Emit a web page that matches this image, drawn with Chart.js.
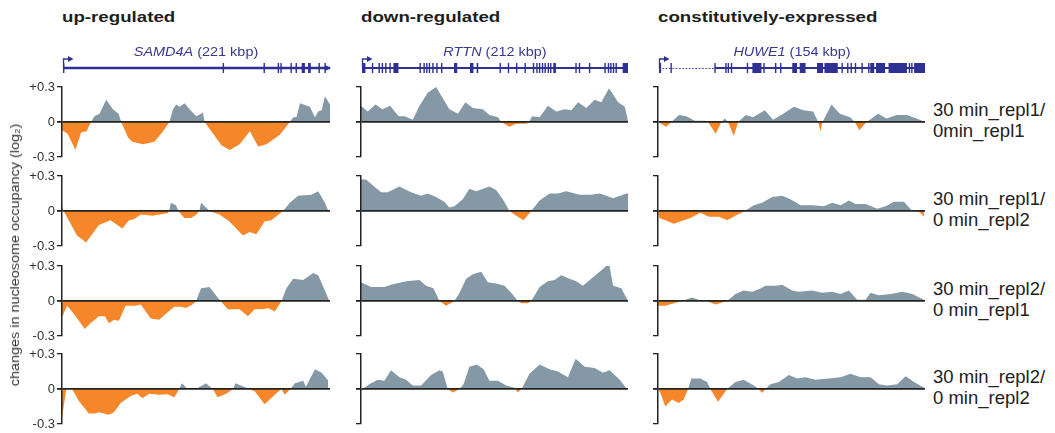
<!DOCTYPE html>
<html><head><meta charset="utf-8">
<script src="https://cdn.jsdelivr.net/npm/chart.js@4.4.0/dist/chart.umd.min.js"></script>
<style>
body{margin:0;background:#fff;width:1055px;height:433px;overflow:hidden;position:relative;font-family:"Liberation Sans",Arial,sans-serif;}
canvas{position:absolute;}
.t{position:absolute;white-space:nowrap;color:#222;}
</style></head><body>
<script>
// ---------- text ----------
const columnTitles = ['up-regulated', 'down-regulated', 'constitutively-expressed'];
const geneNames = ['SAMD4A', 'RTTN', 'HUWE1'];
const geneSizes = ['(221 kbp)', '(212 kbp)', '(154 kbp)'];
const rowLabels = [
  ['30 min_repl1/', '0min_repl1'],
  ['30 min_repl1/', '0 min_repl2'],
  ['30 min_repl2/', '0 min_repl1'],
  ['30 min_repl2/', '0 min_repl2']
];
const yTitle = 'changes in nucleosome occupancy (log\u2082)';
const yTickValues = [-0.3, 0, 0.3];
const yTickLabels = ['-0.3', '0', '+0.3'];

// ---------- gene models: exons as [start, end] in % of gene length ----------
const samd4aExons = [[0,0.5],[59.8,60.3],[75.1,75.6],[80.4,80.9],[81.4,81.9],[85.2,85.7],[87.1,87.6],[89.4,90.6],[91.8,92.8],[95.7,96.2],[97.9,98.4]];
const rttnExons = [[0,1.3],[3.7,4.2],[6.2,6.7],[7.4,7.9],[8.7,9.2],[10.3,10.8],[11.8,13.7],[21.6,22.1],[23.1,23.6],[24.1,24.6],[25.1,25.6],[26.4,26.9],[27.9,28.4],[29.7,30.2],[34.6,35.8],[40.6,41.9],[43.1,43.7],[51.7,52.2],[54.8,55.3],[57.9,58.4],[61.1,61.6],[64.2,64.7],[65.5,66],[66.5,67],[67.6,68.1],[68.6,69.1],[69.8,70.3],[70.7,71.2],[71.9,72.9],[80.2,80.7],[81.5,82],[85.3,85.8],[91.1,91.6],[92.4,92.9],[93.3,93.8],[94.3,94.8],[95.3,95.8],[98,100]];
const huwe1Exons = [[0,0.8],[4.3,4.8],[20.8,21.3],[24.9,25.4],[25.8,26.3],[27,27.5],[33,33.5],[35.1,38.5],[39.2,39.7],[43.6,44.1],[45.5,46],[50.1,51.9],[52.9,55.1],[59.4,61.7],[62.2,67.2],[68.6,69.1],[70.7,71.2],[72,72.5],[73.6,74.1],[76.1,76.6],[78.6,79.1],[79.4,80.9],[81.6,85],[86.3,93.2],[93.9,94.4],[94.8,95.3],[95.9,100]];

// ---------- series: [position along gene (%), change in occupancy (log2)] ----------
// up-regulated (SAMD4A)
const upA = [[0,-0.07],[2.1,-0.10],[5.0,-0.24],[7.1,-0.09],[9.2,-0.08],[10.8,0],[12.1,0.05],[14.0,0.07],[16.5,0.19],[19.0,0.11],[21.1,0.07],[22.1,0],[24.6,-0.13],[26.2,-0.17],[30.2,-0.19],[34.5,-0.17],[37.7,-0.08],[40.1,0],[41.4,0.11],[42.6,0.15],[43.9,0.13],[45.8,0.16],[47.6,0.11],[50.1,0.05],[52.6,0.08],[53.2,0],[56.4,-0.10],[59.5,-0.20],[62.6,-0.24],[66.3,-0.19],[70.1,-0.08],[73.2,-0.21],[76.3,-0.19],[81.3,-0.11],[85.0,0],[86.3,0.04],[87.5,0.04],[88.8,0.16],[92.5,0.13],[94.4,0.04],[95.6,0.09],[96.9,0.10],[98.1,0.22],[100,0.15]];
const upB = [[0,0.05],[0.6,0],[2.5,-0.08],[5.6,-0.21],[9,-0.27],[13.75,-0.12],[18.1,-0.08],[22.5,-0.15],[25,-0.08],[26.9,-0.07],[29.4,-0.03],[33.75,-0.04],[36.25,-0.03],[39.4,-0.02],[40,0],[40.6,0.07],[42.5,0.05],[43.5,0],[45.6,-0.06],[48.1,-0.06],[50,-0.035],[51.25,0],[51.9,0.07],[54.4,0.015],[55,0],[58.75,-0.03],[62.5,-0.09],[67.5,-0.21],[70,-0.18],[72.5,-0.20],[75.6,-0.09],[78.1,-0.08],[82.5,0],[85,0.07],[88.1,0.13],[93.1,0.14],[95.6,0.17],[98.1,0.07],[99.4,0]];
const upC = [[0,-0.14],[1.9,-0.04],[4.4,-0.11],[8.5,-0.24],[10.6,-0.19],[13.75,-0.13],[16,-0.13],[17.5,-0.19],[19.4,-0.16],[21.25,-0.17],[23.75,-0.04],[27.5,-0.04],[29.4,-0.03],[33.1,-0.15],[36.25,-0.16],[38.75,-0.11],[41.9,-0.05],[44.4,-0.05],[46.25,-0.06],[48.75,-0.03],[50,0],[51.9,0.11],[55,0.12],[58.75,0.01],[61.9,-0.07],[66.25,-0.07],[69.4,-0.13],[71.9,-0.07],[75,-0.07],[76.9,-0.06],[79.4,-0.09],[81.9,0],[83.75,0.11],[86.25,0.19],[90,0.18],[93.75,0.24],[95.6,0.22],[98.1,0.09],[99.75,0]];
const upD = [[0,-0.25],[1.6,0],[3.75,0],[6.25,-0.10],[10,-0.21],[12.5,-0.21],[13.75,-0.20],[17.5,-0.22],[19.4,-0.20],[21.9,-0.12],[25.6,-0.06],[28.1,-0.04],[30,-0.08],[32.5,-0.04],[36.25,-0.05],[39.4,-0.045],[41.9,-0.07],[43.75,0],[44.75,0.05],[46.9,0],[50,0],[53.75,0.05],[56.25,0],[58.1,-0.07],[61.25,-0.04],[63.75,0],[64.75,0.05],[68.75,0.01],[71.9,-0.02],[75.6,-0.13],[79.4,-0.05],[81.9,0],[83.1,-0.05],[85.25,0],[86.9,0.05],[90,0.07],[91,0.02],[94.4,0.17],[96.9,0.14],[99.4,0.07]];
// down-regulated (RTTN)
const downA = [[0,0.14],[2.5,0.09],[5.4,0.15],[8.1,0.11],[10.9,0.14],[14.1,0.05],[16.3,0.05],[19.4,0.02],[21.9,0.14],[25,0.25],[28.1,0.30],[33.1,0.11],[36.3,0.07],[39.1,0.17],[41.9,0.12],[45.6,0.11],[48.1,0.06],[51.3,0.04],[52.5,0],[55.6,-0.04],[58.1,-0.015],[61.9,-0.015],[62.9,0],[64.1,0.05],[66.9,0.04],[70,0.14],[73.1,0.09],[76.3,0.11],[78.8,0.10],[81.3,0.17],[84.4,0.12],[87.5,0.19],[90,0.17],[92.9,0.29],[96.3,0.17],[98.8,0.13],[100,0.01]];
const downB = [[0,0.27],[1.9,0.27],[4.4,0.22],[7.5,0.16],[10,0.16],[14.4,0.21],[18.75,0.16],[22.5,0.13],[25,0.15],[28.1,0.12],[31.25,0.08],[33.1,0.03],[35,0.04],[38.1,0.10],[40.6,0.19],[43.1,0.17],[48.1,0.21],[50.6,0.18],[53.1,0.10],[55.6,0],[58.1,-0.04],[60.9,-0.08],[63.75,0],[66.9,0.09],[70.6,0.15],[73.75,0.15],[76.9,0.17],[81.9,0.14],[86.25,0.14],[89.4,0.15],[91.9,0.13],[94.4,0.11],[99.4,0.15],[100,0.15]];
const downC = [[0,0.16],[3.75,0.12],[8.75,0.12],[11.25,0.14],[16.9,0.17],[21.9,0.18],[24.4,0.13],[27.1,0.11],[29.4,0],[31.9,-0.04],[35,0],[36.9,0.07],[39.4,0.19],[41.9,0.23],[45,0.25],[47.5,0.16],[50.6,0.15],[53.75,0.13],[56.25,0.07],[58.75,0],[60,-0.02],[62.5,-0.02],[63.75,0],[66.9,0.12],[70,0.17],[72.5,0.18],[75,0.22],[78.1,0.19],[80.6,0.17],[83.1,0.13],[86.25,0.19],[91.9,0.30],[93.1,0.30],[94.4,0.13],[97.5,0.11],[100,0]];
const downD = [[0,-0.02],[0.6,0],[3.1,0.04],[6.25,0.08],[8.75,0.07],[11.25,0.16],[14.4,0.10],[16.9,0.08],[19.4,0.03],[22.5,0.03],[26.25,0.12],[29.4,0.16],[30.6,0.15],[32.5,0],[34.4,-0.03],[36.9,0],[38.4,0.04],[40.6,0.19],[43.4,0.21],[45.9,0.17],[48.1,0.07],[51.25,0.07],[54.4,0.03],[57.5,0.01],[58.75,-0.03],[60.4,0.01],[63.1,0.13],[66.9,0.21],[70.6,0.17],[73.75,0.15],[77.5,0.10],[80.4,0.26],[83.75,0.19],[87.5,0.18],[90.6,0.14],[93.1,0.16],[96.9,0.08],[99.6,0]];
// constitutively-expressed (HUWE1)
const constA = [[0,0],[3.1,-0.04],[5,0],[7.9,0.06],[10.6,0.05],[13.8,0.01],[17.5,0.01],[18.75,0],[21.6,-0.10],[23.75,0],[25,0.03],[26.25,0],[28.4,-0.12],[30,0],[32.9,0.06],[35.6,0.04],[40,0.10],[43.1,0.02],[46.9,0.07],[50.9,0.13],[54.4,0.10],[58.1,0.09],[60,0],[60.9,-0.08],[61.6,0],[65,0.15],[68.1,0.07],[71.9,0.04],[73.75,0],[75.4,-0.07],[78.1,0],[82.5,0.07],[85.6,0.03],[89.4,0.06],[93.1,0.06],[96.9,0.03],[100,0]];
const constB = [[0,0],[0.5,-0.06],[2.75,-0.08],[5.9,-0.11],[8.4,-0.09],[12.1,-0.06],[15.9,-0.015],[19,-0.05],[22.75,-0.05],[25.9,-0.08],[29,-0.04],[32.5,0],[35.9,0.05],[39,0.07],[42.75,0.12],[46.5,0.13],[49.6,0.10],[53.4,0.05],[57.75,0.05],[62.1,0.04],[65.25,0.07],[68.4,0.05],[71.5,0.09],[74,0.06],[77.75,0.06],[82.1,0.02],[85.25,0.04],[88.4,0.08],[92.1,0.08],[95.25,0],[97.75,-0.005],[99.6,-0.05]];
const constC = [[0,-0.04],[2.75,-0.04],[9,0],[12.75,0.03],[16.5,0],[18.4,0],[21.5,-0.03],[25.9,0],[29,0.06],[32.1,0.09],[35.25,0.08],[37.75,0.10],[40.25,0.13],[44,0.13],[46.5,0.14],[50.25,0.09],[52.75,0.08],[57.75,0.09],[61.5,0.07],[65.25,0.08],[68.4,0.06],[71.5,0.09],[74.6,0.01],[77.75,0.01],[79.6,0.07],[82.75,0.05],[87.1,0.06],[91.5,0.08],[95.25,0.06],[99.6,0.01]];
const constD = [[0,0],[0.9,-0.035],[2.75,-0.15],[5.25,-0.09],[7.75,-0.12],[9.6,-0.09],[11.25,0],[12.5,0.09],[15.9,0.09],[18.4,0.06],[19.6,0],[22.5,-0.11],[25.9,0],[29,0.06],[32.1,0.08],[35.9,0.03],[37.75,0],[39,-0.035],[40.25,0],[42.1,0.04],[45.25,0.06],[49,0.12],[52.1,0.09],[55.25,0.10],[59,0.08],[64,0.09],[68.4,0.10],[72.1,0.13],[75.9,0.10],[79.6,0.10],[82.75,0.04],[85.9,0.03],[89.6,0.04],[92.75,0.11],[95.9,0.06],[99.6,0.01]];

const panelSeries = [
  [upA, upB, upC, upD],
  [downA, downB, downC, downD],
  [constA, constB, constC, constD]
];
const geneExons = [samd4aExons, rttnExons, huwe1Exons];

// ---------- layout / style ----------
const FONT = '"Liberation Sans", Arial, sans-serif';
const BLUE = '#8499a5';
const ORANGE = '#f5872a';
const NAVY = '#2e3192';
const INK = '#222';
const colAxisX = [62, 361, 658];
const colEndX = [330, 628, 925];
const rowZeroY = [122, 211, 301, 389];
const HALF = 35, PADV = 10, PADR = 5;

function addCanvas(left, top, w, h) {
  const c = document.createElement('canvas');
  c.width = w; c.height = h;
  c.style.left = left + 'px'; c.style.top = top + 'px';
  c.style.width = w + 'px'; c.style.height = h + 'px';
  document.body.appendChild(c);
  return c;
}
function addText(html, css) {
  const d = document.createElement('div');
  d.className = 't';
  d.innerHTML = html;
  Object.assign(d.style, css);
  document.body.appendChild(d);
  return d;
}

// panels
panelSeries.forEach((rows, col) => {
  const axisW = col === 0 ? colAxisX[0] : 20;
  const left = colAxisX[col] - axisW;
  const width = colEndX[col] + PADR - left;
  rows.forEach((series, row) => {
    const top = rowZeroY[row] - HALF - PADV;
    const cv = addCanvas(left, top, width, 2 * HALF + 2 * PADV);
    new Chart(cv, {
      type: 'line',
      data: { datasets: [{
        data: series.map(([x, y]) => ({ x, y })),
        fill: { target: 'origin', above: BLUE, below: ORANGE },
        backgroundColor: BLUE,
        borderColor: 'rgba(0,0,0,0)',
        borderWidth: 0,
        pointRadius: 0,
        tension: 0
      }]},
      options: {
        responsive: false, animation: false, events: [],
        layout: { padding: { top: PADV, bottom: PADV, left: 0, right: PADR } },
        plugins: { legend: { display: false }, tooltip: { enabled: false } },
        scales: {
          x: { type: 'linear', min: 0, max: 100, display: false },
          y: {
            type: 'linear', min: -0.3, max: 0.3,
            afterBuildTicks: s => { s.ticks = yTickValues.map(v => ({ value: v })); },
            afterFit: s => { s.width = axisW; },
            ticks: {
              display: col === 0,
              callback: v => yTickLabels[yTickValues.indexOf(v)],
              font: { family: FONT, size: 13 },
              color: '#333', padding: 2
            },
            grid: {
              z: 1,
              color: c => (c.tick && c.tick.value === 0) ? INK : 'rgba(0,0,0,0)',
              lineWidth: c => (c.tick && c.tick.value === 0) ? 1.8 : 1.3,
              tickColor: INK, tickLength: 5, drawTicks: true
            },
            border: { z: 1, color: INK, width: 1.5 }
          }
        }
      }
    });
  });
});

// gene models
const genePlugin = {
  id: 'gene',
  afterDraw(chart) {
    const col = chart.options.plugins.gene.col;
    const exons = geneExons[col];
    const xs = chart.scales.x, ys = chart.scales.y;
    const ctx = chart.ctx;
    const yc = ys.getPixelForValue(0);
    const x0 = xs.getPixelForValue(0), x1 = xs.getPixelForValue(100);
    ctx.save();
    ctx.strokeStyle = NAVY; ctx.fillStyle = NAVY;
    // intron backbone
    if (col === 2) {
      const xm = xs.getPixelForValue(21);
      ctx.lineWidth = 1.2; ctx.setLineDash([2, 1.3]);
      ctx.strokeStyle = '#5a5ca8';
      ctx.beginPath(); ctx.moveTo(x0, yc + 0.5); ctx.lineTo(xm, yc + 0.5); ctx.stroke();
      ctx.setLineDash([]); ctx.strokeStyle = NAVY;
      ctx.lineWidth = 1.8;
      ctx.beginPath(); ctx.moveTo(xm, yc); ctx.lineTo(x1, yc); ctx.stroke();
    } else {
      ctx.lineWidth = col === 0 ? 2.6 : 2.2;
      ctx.beginPath(); ctx.moveTo(x0, yc); ctx.lineTo(x1, yc); ctx.stroke();
    }
    // exons
    exons.forEach(([s, e]) => {
      const a = xs.getPixelForValue(s);
      const b = Math.max(xs.getPixelForValue(e), a + 1.4);
      ctx.fillRect(a, yc - 5, b - a, 10);
    });
    // end arrow (col 0)
    if (col === 0) {
      ctx.beginPath(); ctx.moveTo(x1 - 5, yc - 3); ctx.lineTo(x1 + 1, yc); ctx.lineTo(x1 - 5, yc + 3); ctx.closePath(); ctx.fill();
    }
    // transcription start arrow
    ctx.lineWidth = 1.3;
    ctx.beginPath(); ctx.moveTo(x0 + 0.5, yc); ctx.lineTo(x0 + 0.5, yc - 9); ctx.lineTo(x0 + 6, yc - 9); ctx.stroke();
    ctx.beginPath(); ctx.moveTo(x0 + 5, yc - 12); ctx.lineTo(x0 + 10.5, yc - 9); ctx.lineTo(x0 + 5, yc - 6); ctx.closePath(); ctx.fill();
    ctx.restore();
  }
};
[0, 1, 2].forEach(col => {
  const start = colAxisX[col] + 1, end = colEndX[col];
  const cv = addCanvas(start - 6, 53, end - start + 12, 30);
  new Chart(cv, {
    type: 'scatter',
    data: { datasets: [] },
    options: {
      responsive: false, animation: false, events: [],
      layout: { padding: { left: 6, right: 6, top: 0, bottom: 0 } },
      plugins: { legend: { display: false }, tooltip: { enabled: false }, gene: { col } },
      scales: { x: { type: 'linear', min: 0, max: 100, display: false }, y: { type: 'linear', min: -1, max: 1, display: false } }
    },
    plugins: [genePlugin]
  });
});

// texts
columnTitles.forEach((t, col) => {
  addText(t, { left: colAxisX[col] + 'px', top: '9px', font: 'bold 14.4px ' + FONT, lineHeight: '17px',
    transform: 'scaleX(1.3)', transformOrigin: '0 50%', color: '#1e1e1e' });
});
const geneCenters = [196, 495, 792];
geneNames.forEach((g, col) => {
  addText('<i>' + g + '</i> ' + geneSizes[col], { left: geneCenters[col] + 'px', top: '44px', font: '13.5px ' + FONT,
    lineHeight: '16px', color: '#38388f', transform: 'translateX(-50%) scaleX(1.07)', transformOrigin: '50% 50%' });
});
rowLabels.forEach((lines, row) => {
  addText(lines.join('<br>'), { left: '933px', top: (rowZeroY[row] - 22) + 'px', font: '18.5px ' + FONT, lineHeight: '20.5px', color: '#222' });
});
addText(yTitle, { left: '15px', top: '255px', font: '12px ' + FONT, lineHeight: '14px', color: '#333',
  transform: 'translate(-50%,-50%) rotate(-90deg) scaleX(1.2)', transformOrigin: '50% 50%' });
</script>
</body></html>
